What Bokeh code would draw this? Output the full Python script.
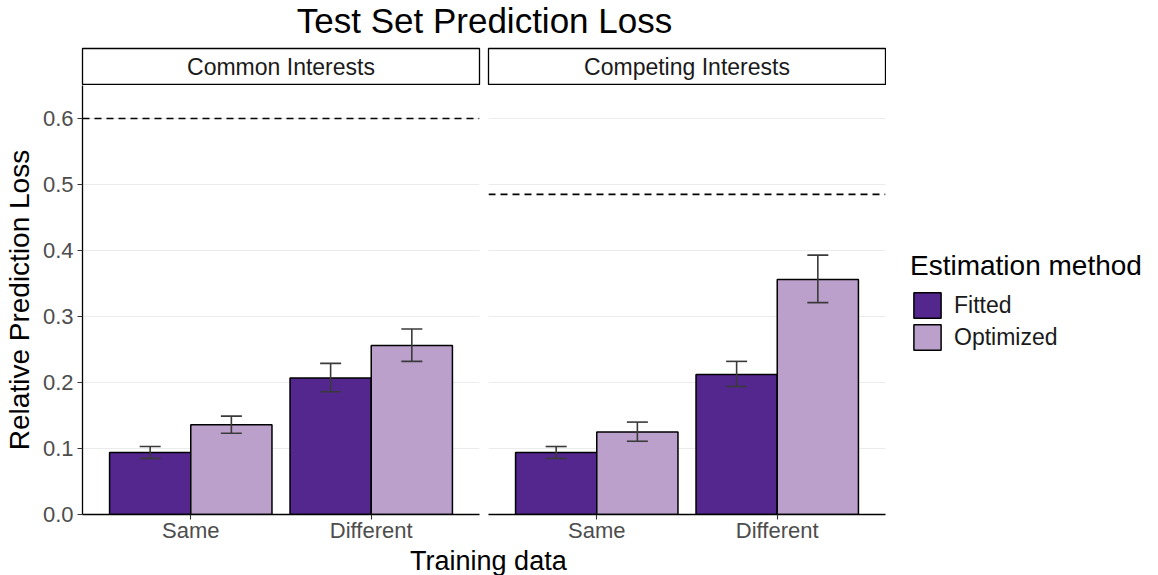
from bokeh.plotting import figure
from bokeh.models import (ColumnDataSource, Range1d, Span, Whisker, TeeHead, Legend,
                          LegendItem, FixedTicker, PrintfTickFormatter)
from bokeh.layouts import column, row
from bokeh.transform import dodge
from bokeh.embed import file_html
from bokeh.resources import INLINE
from bokeh.core.properties import value

FONT = "Liberation Sans"

# ---------------- data ----------------
chart_title = "Test Set Prediction Loss"
panels = ["Common Interests", "Competing Interests"]
training = ["Same", "Different"]
methods = ["Fitted", "Optimized"]
method_colors = ["#54278F", "#BCA0CC"]
y_ticks = [0.0, 0.1, 0.2, 0.3, 0.4, 0.5, 0.6]
x_title = "Training data"
y_title = "Relative Prediction Loss"
legend_title = "Estimation method"

common_fitted = [0.094, 0.207]
common_fitted_lower = [0.085, 0.186]
common_fitted_upper = [0.103, 0.229]
common_optimized = [0.136, 0.256]
common_optimized_lower = [0.123, 0.232]
common_optimized_upper = [0.149, 0.281]

competing_fitted = [0.094, 0.212]
competing_fitted_lower = [0.085, 0.194]
competing_fitted_upper = [0.103, 0.232]
competing_optimized = [0.125, 0.356]
competing_optimized_lower = [0.111, 0.321]
competing_optimized_upper = [0.140, 0.393]

benchmark_loss = [0.600, 0.485]

panel_data = [
    [(common_fitted, common_fitted_lower, common_fitted_upper),
     (common_optimized, common_optimized_lower, common_optimized_upper)],
    [(competing_fitted, competing_fitted_lower, competing_fitted_upper),
     (competing_optimized, competing_optimized_lower, competing_optimized_upper)],
]

# ---------------- layout constants ----------------
W1, W2, W3 = 484, 402, 272
L1, R1 = 82, 5
L2, R2 = 4, 1
TITLE_H = 47
STRIP_H = 38
FRAME_H = 429
BOTTOM = 31
PANEL_H = FRAME_H + BOTTOM
XLAB_H = 575 - TITLE_H - STRIP_H - PANEL_H
BAR_W = 0.45

xs = [i + 1 for i in range(len(training))]


def blank_fig(width, height, left=0, right=0, top=0, bottom=0, outline=None):
    f = figure(width=width, height=height, x_range=Range1d(0, 1), y_range=Range1d(0, 1),
               output_backend="svg", toolbar_location=None,
               x_axis_location=None, y_axis_location=None,
               min_border_left=left, min_border_right=right,
               min_border_top=top, min_border_bottom=bottom)
    f.grid.visible = False
    f.outline_line_color = outline
    if outline is not None:
        f.outline_line_width = 1.3
    return f


def text_fig(width, height, text, x, y, size, color, **kw):
    f = blank_fig(width, height, **kw)
    f.text(x=[x], y=[y], text=[text], text_font=value(FONT), text_font_size=size,
           text_color=color, text_align="center", text_baseline="middle")
    return f


sources = {}


def make_panel(idx, width, left, right):
    p = figure(width=width, height=PANEL_H, x_range=Range1d(0.4, 2.6), y_range=Range1d(0, 0.65),
               output_backend="svg", toolbar_location=None,
               min_border_left=left, min_border_right=right,
               min_border_top=0, min_border_bottom=BOTTOM,
               y_axis_location="left" if idx == 0 else None)
    p.outline_line_color = None
    p.background_fill_color = "white"
    p.xgrid.grid_line_color = None
    p.ygrid.ticker = FixedTicker(ticks=y_ticks)
    p.ygrid.grid_line_color = "#EBEBEB"
    p.ygrid.grid_line_width = 1

    for j, (m, col) in enumerate(zip(methods, method_colors)):
        vals, lo, hi = panel_data[idx][j]
        src = ColumnDataSource(dict(x=xs, top=vals, lower=lo, upper=hi,
                                    cat=training, method=[m] * len(xs)))
        sources[(idx, j)] = src
        off = (j - 0.5) * BAR_W
        p.vbar(x=dodge("x", off), top="top", bottom=0, width=BAR_W, source=src,
               fill_color=col, line_color="black", line_width=1.5)
        w = Whisker(source=src, base=dodge("x", off), upper="upper", lower="lower",
                    line_color="#3A3A3A", line_width=1.6, level="overlay",
                    upper_head=TeeHead(size=21, line_color="#3A3A3A", line_width=1.6),
                    lower_head=TeeHead(size=21, line_color="#3A3A3A", line_width=1.6))
        p.add_layout(w)

    p.add_layout(Span(location=benchmark_loss[idx], dimension="width", line_color="black",
                      line_width=1.6, line_dash="7 5"))

    ax = p.xaxis[0]
    ax.ticker = FixedTicker(ticks=xs)
    ax.major_label_overrides = {x: t for x, t in zip(xs, training)}
    ax.axis_line_color = "black"
    ax.axis_line_width = 1.3
    ax.major_tick_line_color = "#333333"
    ax.major_tick_line_width = 1.1
    ax.major_tick_out = 5
    ax.major_tick_in = 0
    ax.minor_tick_line_color = None
    ax.major_label_text_font = FONT
    ax.major_label_text_font_size = "22px"
    ax.major_label_text_color = "#4D4D4D"
    ax.major_label_standoff = -2

    if idx == 0:
        ay = p.yaxis[0]
        ay.ticker = FixedTicker(ticks=y_ticks)
        ay.formatter = PrintfTickFormatter(format="%.1f")
        ay.axis_line_color = "black"
        ay.axis_line_width = 1.3
        ay.major_tick_line_color = "#333333"
        ay.major_tick_line_width = 1.1
        ay.major_tick_out = 5
        ay.major_tick_in = 0
        ay.minor_tick_line_color = None
        ay.major_label_text_font = FONT
        ay.major_label_text_font_size = "22px"
        ay.major_label_text_color = "#4D4D4D"
        ay.major_label_standoff = 4
        ay.axis_label = y_title
        ay.axis_label_text_font = FONT
        ay.axis_label_text_font_size = "28px"
        ay.axis_label_text_font_style = "normal"
        ay.axis_label_text_color = "black"
        ay.axis_label_standoff = 5
    return p


title_fig = text_fig(968, TITLE_H, chart_title, 0.5, 0.575, "35px", "black")
strip1 = text_fig(W1, STRIP_H, panels[0], 0.5, 0.5, "23px", "#1A1A1A",
                  left=L1, right=R1, top=1, bottom=1, outline="black")
strip2 = text_fig(W2, STRIP_H, panels[1], 0.5, 0.5, "23px", "#1A1A1A",
                  left=L2, right=R2, top=1, bottom=1, outline="black")

p1 = make_panel(0, W1, L1, R1)
p2 = make_panel(1, W2, L2, R2)

# legend panel: hidden copies of the panel-2 bars provide the key swatches
legend_fig = blank_fig(W3, PANEL_H)
keys = []
for j, (m, col) in enumerate(zip(methods, method_colors)):
    r = legend_fig.vbar(x="x", top="top", bottom=0, width=BAR_W, source=sources[(1, j)],
                        fill_color=col, line_color="black", line_width=1.5)
    r.visible = False
    keys.append(r)
legend = Legend(items=[LegendItem(label=m, renderers=[r]) for m, r in zip(methods, keys)],
                location=(24, 161), margin=0, padding=0, spacing=0,
                glyph_width=34, glyph_height=32, label_standoff=10, label_height=20,
                title=legend_title, title_text_font=FONT, title_text_font_size="28px",
                title_text_font_style="normal", title_text_color="black", title_standoff=7,
                label_text_font=FONT, label_text_font_size="23px", label_text_color="#1A1A1A",
                border_line_color=None, background_fill_alpha=0,
                inactive_fill_alpha=0)
legend_fig.add_layout(legend, "center")

xlabel_fig = text_fig(968, XLAB_H, x_title, 0.504, 0.5, "27px", "black")

layout = column(title_fig, row(strip1, strip2), row(p1, p2, legend_fig), xlabel_fig)

open("out.html", "w").write(file_html(layout, INLINE))
